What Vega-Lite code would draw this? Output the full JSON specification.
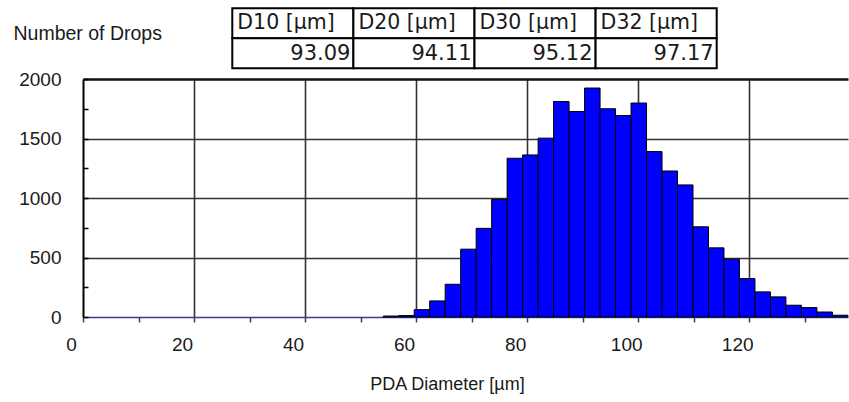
{
  "$schema": "https://vega.github.io/schema/vega-lite/v6.json",
  "width": 765,
  "height": 238,
  "autosize": {"type": "none"},
  "padding": {"left": 83, "top": 79, "right": 1, "bottom": 85},
  "background": "white",
  "config": {"view": {"stroke": null}, "font": "Liberation Sans"},
  "datasets": {
    "bins": [
      {"start": 54.08, "end": 56.87, "count": 8},
      {"start": 56.87, "end": 59.66, "count": 12},
      {"start": 59.66, "end": 62.45, "count": 62},
      {"start": 62.45, "end": 65.24, "count": 135},
      {"start": 65.24, "end": 68.03, "count": 275},
      {"start": 68.03, "end": 70.82, "count": 570},
      {"start": 70.82, "end": 73.61, "count": 745},
      {"start": 73.61, "end": 76.40, "count": 989},
      {"start": 76.40, "end": 79.19, "count": 1334},
      {"start": 79.19, "end": 81.98, "count": 1362},
      {"start": 81.98, "end": 84.77, "count": 1503},
      {"start": 84.77, "end": 87.56, "count": 1811},
      {"start": 87.56, "end": 90.35, "count": 1727},
      {"start": 90.35, "end": 93.14, "count": 1924},
      {"start": 93.14, "end": 95.93, "count": 1750},
      {"start": 95.93, "end": 98.72, "count": 1693},
      {"start": 98.72, "end": 101.51, "count": 1798},
      {"start": 101.51, "end": 104.30, "count": 1390},
      {"start": 104.30, "end": 107.09, "count": 1227},
      {"start": 107.09, "end": 109.88, "count": 1110},
      {"start": 109.88, "end": 112.67, "count": 758},
      {"start": 112.67, "end": 115.46, "count": 581},
      {"start": 115.46, "end": 118.25, "count": 486},
      {"start": 118.25, "end": 121.04, "count": 323},
      {"start": 121.04, "end": 123.83, "count": 211},
      {"start": 123.83, "end": 126.62, "count": 169},
      {"start": 126.62, "end": 129.41, "count": 99},
      {"start": 129.41, "end": 132.20, "count": 79},
      {"start": 132.20, "end": 134.99, "count": 42},
      {"start": 134.99, "end": 137.78, "count": 15}
    ],
    "stats": [
      {"stat": "D10 [µm]", "value": 93.09},
      {"stat": "D20 [µm]", "value": 94.11},
      {"stat": "D30 [µm]", "value": 95.12},
      {"stat": "D32 [µm]", "value": 97.17}
    ]
  },
  "layer": [
    {
      "data": {"name": "bins"},
      "mark": {"type": "rect", "fill": "#0000ff", "stroke": "#000000", "strokeWidth": 1},
      "encoding": {
        "x": {
          "field": "start", "type": "quantitative",
          "scale": {"domain": [0, 137.8], "nice": false, "zero": false},
          "axis": {
            "title": "PDA Diameter [µm]",
            "values": [0, 10, 20, 30, 40, 50, 60, 70, 80, 90, 100, 110, 120, 130],
            "format": "d",
            "labelExpr": "datum.value % 20 === 0 ? datum.label : ''",
            "labelFlush": false, "labelOverlap": false,
            "grid": true,
            "gridColor": "#333333",
            "gridWidth": 1.6,
            "gridOpacity": {"condition": {"test": "datum.value % 20 === 0 && datum.value > 0", "value": 1}, "value": 0},
            "domainColor": "#3c3c8c", "domainWidth": 1.5,
            "tickColor": "#3c3c6c", "tickSize": 5, "tickWidth": 1.5,
            "labelFont": "Liberation Sans", "labelFontSize": 19, "labelColor": "#1a1a1a",
            "labelBaseline": "alphabetic", "labelPadding": 28, "labelOffset": -12,
            "titleFont": "Liberation Sans", "titleFontSize": 18, "titleFontWeight": "normal", "titleColor": "#1a1a1a",
            "titleX": 364, "titleY": 72, "titleAlign": "center", "titleBaseline": "alphabetic"
          }
        },
        "x2": {"field": "end"},
        "y": {
          "field": "count", "type": "quantitative",
          "scale": {"domain": [0, 2000], "nice": false},
          "axis": {
            "title": "Number of Drops",
            "values": [0, 250, 500, 750, 1000, 1250, 1500, 1750, 2000],
            "format": "d",
            "labelExpr": "datum.value % 500 === 0 ? datum.label : ''",
            "grid": true,
            "gridColor": {"condition": {"test": "datum.value === 2000", "value": "#111111"}, "value": "#333333"},
            "gridWidth": {"condition": {"test": "datum.value === 2000", "value": 2.5}, "value": 1.6},
            "gridOpacity": {"condition": {"test": "datum.value % 500 === 0 && datum.value > 0", "value": 1}, "value": 0},
            "domainColor": "#000000", "domainWidth": 2,
            "tickColor": "#000000", "tickSize": -5, "tickWidth": 1.5,
            "labelFont": "Liberation Sans", "labelFontSize": 19, "labelColor": "#1a1a1a",
            "labelPadding": 27,
            "titleFont": "Liberation Sans", "titleFontSize": 19.5, "titleFontWeight": "normal", "titleColor": "#1a1a1a",
            "titleAngle": 0, "titleX": -70, "titleY": -40, "titleAlign": "left", "titleBaseline": "alphabetic"
          }
        }
      }
    },
    {
      "data": {"name": "stats"},
      "layer": [
        {
          "mark": {"type": "rect", "fill": "white", "stroke": "#000000", "strokeWidth": 2},
          "encoding": {
            "x": {"field": "stat", "type": "nominal", "sort": null, "scale": {"range": [149.3, 633.7], "paddingInner": 0, "paddingOuter": 0}, "axis": null},
            "y": {"datum": "header", "type": "nominal", "scale": {"domain": ["header", "value"], "range": [-70.7, -10.7], "paddingInner": 0, "paddingOuter": 0}, "axis": null}
          }
        },
        {
          "mark": {"type": "rect", "fill": "white", "stroke": "#000000", "strokeWidth": 2},
          "encoding": {
            "x": {"field": "stat", "type": "nominal", "sort": null, "axis": null},
            "y": {"datum": "value", "type": "nominal", "axis": null}
          }
        },
        {
          "mark": {"type": "text", "align": "left", "baseline": "middle", "dx": 5, "dy": 0, "font": "DejaVu Sans", "fontSize": 20.5, "fill": "#1a1a1a"},
          "encoding": {
            "x": {"field": "stat", "type": "nominal", "sort": null, "bandPosition": 0, "axis": null},
            "y": {"datum": "header", "type": "nominal", "axis": null},
            "text": {"field": "stat", "type": "nominal"}
          }
        },
        {
          "mark": {"type": "text", "align": "right", "baseline": "middle", "dx": -3, "dy": 1, "font": "DejaVu Sans", "fontSize": 21, "fill": "#1a1a1a"},
          "encoding": {
            "x": {"field": "stat", "type": "nominal", "sort": null, "bandPosition": 1, "axis": null},
            "y": {"datum": "value", "type": "nominal", "axis": null},
            "text": {"field": "value", "type": "quantitative", "format": ".2f"}
          }
        }
      ]
    }
  ],
  "resolve": {"scale": {"x": "independent", "y": "independent"}}
}
